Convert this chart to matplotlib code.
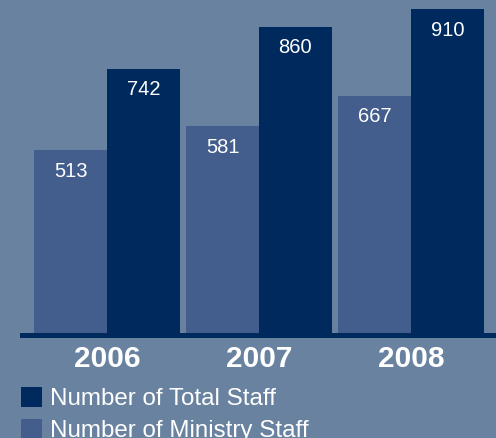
import matplotlib
matplotlib.use("Agg")
import matplotlib.pyplot as plt
import numpy as np

years = ["2006", "2007", "2008"]
ministry_staff = [513, 581, 667]
total_staff = [742, 860, 910]
series_labels = ["Number of Total Staff", "Number of Ministry Staff"]

BG = "#6882a0"
C_MIN = "#435d8c"
C_TOT = "#002a5e"

plt.rcParams['font.family'] = ['Liberation Sans', 'DejaVu Sans']

W, H = 496, 438
fig = plt.figure(figsize=(W/100, H/100), dpi=100, facecolor=BG)
ax = fig.add_axes([20/W, (H-338)/H, 1-20/W, 338/H])
ax.set_facecolor(BG)

x = np.arange(len(years))
w = 0.477
b1 = ax.bar(x - w/2, ministry_staff, width=w, color=C_MIN, label=series_labels[1], zorder=2)
b2 = ax.bar(x + w/2, total_staff, width=w, color=C_TOT, label=series_labels[0], zorder=2)

ax.set_xlim((20-107)/152, (496-107)/152)
scale = 0.356
ax.set_ylim(-5/scale, 333/scale)
ax.axhspan(-5/scale, 0, color=C_TOT, zorder=3, lw=0)

for bars, vals in ((b1, ministry_staff), (b2, total_staff)):
    for r, v in zip(bars, vals):
        ax.annotate(str(v), (r.get_x() + r.get_width()/2, v), xytext=(0, -21*0.72),
                    textcoords='offset points', ha='center', va='center',
                    color='white', fontsize=14.5, zorder=4)

for s in ax.spines.values():
    s.set_visible(False)
ax.set_xticks([])
ax.set_yticks([])

for i, yr in enumerate(years):
    fig.text((107 + 152*i)/W, 1 - 359/H, yr, ha='center', va='center',
             color='white', fontsize=21.5, fontweight='bold')

leg = fig.legend([b2, b1], series_labels, loc='upper left',
                 bbox_to_anchor=(20.5/W, 1 - 386.5/H), frameon=False,
                 fontsize=17.4, handlelength=0.9, handleheight=0.9,
                 handletextpad=0.32, labelspacing=0.38, borderpad=0,
                 borderaxespad=0, labelcolor='white')

fig.savefig("out.png", dpi=100, facecolor=BG)
